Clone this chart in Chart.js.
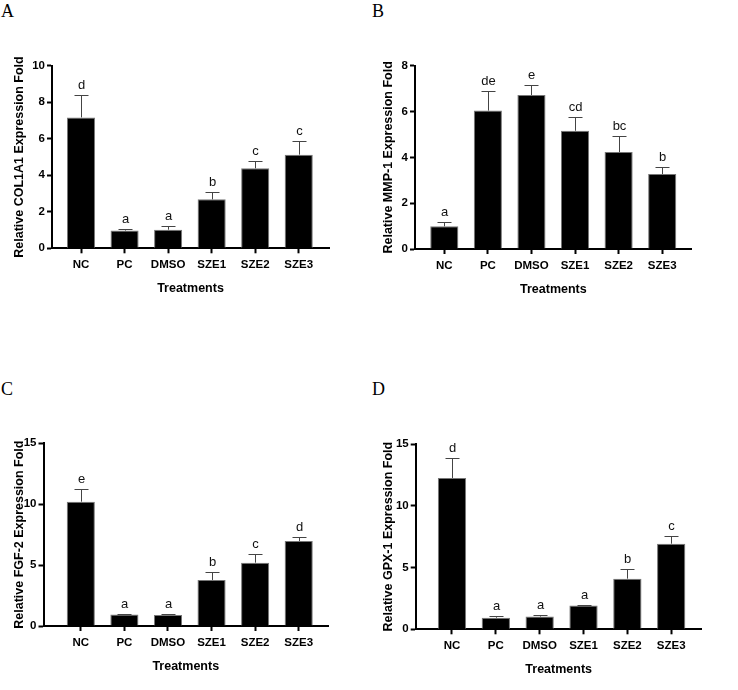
<!DOCTYPE html>
<html>
<head>
<meta charset="utf-8">
<script src="https://cdn.jsdelivr.net/npm/chart.js@4.4.1/dist/chart.umd.min.js"></script>
<style>
  body { margin: 0; background: #fff; width: 738px; height: 690px; position: relative; overflow: hidden; }
  canvas { position: absolute; }
  .tag { position: absolute; font-family: "Liberation Serif", "Times New Roman", serif; font-size: 18px; line-height: 18px; color: #000; }
</style>
</head>
<body>
<div class="tag" style="left:1px;top:2px">A</div>
<div class="tag" style="left:372px;top:2px">B</div>
<div class="tag" style="left:1px;top:380px">C</div>
<div class="tag" style="left:372px;top:380px">D</div>

<canvas id="cA" width="369" height="340" style="left:0;top:0"></canvas>
<canvas id="cB" width="369" height="340" style="left:369px;top:0"></canvas>
<canvas id="cC" width="369" height="350" style="left:0;top:340px"></canvas>
<canvas id="cD" width="369" height="350" style="left:369px;top:340px"></canvas>

<script>
const categories = ["NC", "PC", "DMSO", "SZE1", "SZE2", "SZE3"];

// A - COL1A1
const col1a1Mean = [7.17, 0.97, 1.02, 2.68, 4.38, 5.13];
const col1a1Err = [1.21, 0.07, 0.20, 0.39, 0.42, 0.73];
const col1a1Letters = ["d", "a", "a", "b", "c", "c"];
const col1a1Ticks = [0, 2, 4, 6, 8, 10];

// B - MMP-1
const mmp1Mean = [0.99, 6.04, 6.72, 5.16, 4.23, 3.27];
const mmp1Err = [0.20, 0.87, 0.45, 0.61, 0.69, 0.29];
const mmp1Letters = ["a", "de", "e", "cd", "bc", "b"];
const mmp1Ticks = [0, 2, 4, 6, 8];

// C - FGF-2
const fgf2Mean = [10.21, 0.95, 0.90, 3.78, 5.20, 6.98];
const fgf2Err = [1.01, 0.05, 0.05, 0.63, 0.74, 0.33];
const fgf2Letters = ["e", "a", "a", "b", "c", "d"];
const fgf2Ticks = [0, 5, 10, 15];

// D - GPX-1
const gpx1Mean = [12.25, 0.94, 1.03, 1.92, 4.10, 6.93];
const gpx1Err = [1.64, 0.11, 0.16, 0.08, 0.76, 0.65];
const gpx1Letters = ["d", "a", "a", "a", "b", "c"];
const gpx1Ticks = [0, 5, 10, 15];

const FONT = '"Liberation Sans", Arial, Helvetica, sans-serif';
Chart.defaults.font.family = FONT;
Chart.defaults.color = "#000";

const errPlugin = {
  id: "errLetters",
  afterDatasetsDraw(chart, args, opts) {
    const ctx = chart.ctx;
    const y = chart.scales.y;
    const meta = chart.getDatasetMeta(0);
    const vals = chart.data.datasets[0].data;
    ctx.save();
    meta.data.forEach((bar, i) => {
      const px = Math.round(bar.x) + 0.5;
      const top = Math.round(y.getPixelForValue(vals[i].y + opts.errs[i])) + 0.5;
      ctx.strokeStyle = "#444";
      ctx.lineWidth = 1;
      ctx.beginPath();
      ctx.moveTo(px, bar.y);
      ctx.lineTo(px, top);
      ctx.moveTo(px - 7, top);
      ctx.lineTo(px + 7, top);
      ctx.stroke();
      ctx.fillStyle = "#111";
      ctx.font = "13px " + FONT;
      ctx.textAlign = "center";
      ctx.textBaseline = "alphabetic";
      ctx.fillText(opts.letters[i], px, top - 7);
    });
    ctx.restore();
  }
};

function makePanel(id, area, yTitle, means, errs, letters, ticks) {
  const cv = document.getElementById(id);
  const W = cv.width, H = cv.height;
  const xAxisH = 48;
  new Chart(cv, {
    type: "bar",
    data: {
      datasets: [{
        data: means.map((v, i) => ({ x: i, y: v })),
        backgroundColor: "#000",
        borderColor: "#777",
        borderWidth: 1,
        categoryPercentage: 1,
        barPercentage: 0.645
      }]
    },
    options: {
      responsive: false,
      animation: false,
      events: [],
      layout: { padding: { left: 0, top: area.t, right: W - area.r, bottom: H - area.b - xAxisH } },
      plugins: {
        legend: { display: false },
        tooltip: { enabled: false },
        errLetters: { errs, letters }
      },
      scales: {
        x: {
          type: "linear",
          offset: false,
          min: area.xMin,
          max: area.xMax,
          afterBuildTicks: (s) => { s.ticks = categories.map((c, i) => ({ value: i })); },
          afterFit: (s) => { s.height = xAxisH; },
          ticks: {
            callback: (v) => categories[v],
            font: { size: 11.5, weight: "bold" },
            padding: 5,
            autoSkip: false,
            maxRotation: 0
          },
          grid: { offset: false, drawOnChartArea: false, tickLength: 5, tickWidth: 2, tickColor: "#000" },
          border: { color: "#000", width: 2 },
          title: {
            display: true,
            text: "Treatments",
            font: { size: 12.5, weight: "bold", lineHeight: 1.2 },
            padding: { top: 0, bottom: 0 }
          }
        },
        y: {
          min: 0,
          max: ticks[ticks.length - 1],
          afterBuildTicks: (s) => { s.ticks = ticks.map((v) => ({ value: v })); },
          afterFit: (s) => { s.width = area.l; },
          ticks: { font: { size: 11.5, weight: "bold" }, padding: 2 },
          grid: { drawOnChartArea: false, tickLength: 5, tickWidth: 2, tickColor: "#000" },
          border: { color: "#000", width: 2 },
          title: {
            display: true,
            text: yTitle,
            font: { size: 12.5, weight: "bold", lineHeight: 1.2 },
            padding: { top: 12.5, bottom: 0 }
          }
        }
      }
    },
    plugins: [errPlugin]
  });
}

makePanel("cA", { l: 52, t: 65.7, r: 329, b: 248.3, xMin: -0.667, xMax: 5.695 },
  "Relative COL1A1 Expression Fold", col1a1Mean, col1a1Err, col1a1Letters, col1a1Ticks);
makePanel("cB", { l: 46, t: 65.7, r: 322.7, b: 249, xMin: -0.672, xMax: 5.677 },
  "Relative MMP-1 Expression Fold", mmp1Mean, mmp1Err, mmp1Letters, mmp1Ticks);
makePanel("cC", { l: 43.5, t: 103.3, r: 328, b: 286, xMin: -0.856, xMax: 5.672 },
  "Relative FGF-2 Expression Fold", fgf2Mean, fgf2Err, fgf2Letters, fgf2Ticks);
makePanel("cD", { l: 46.7, t: 104, r: 332.7, b: 289.3, xMin: -0.828, xMax: 5.696 },
  "Relative GPX-1 Expression Fold", gpx1Mean, gpx1Err, gpx1Letters, gpx1Ticks);
</script>
</body>
</html>
